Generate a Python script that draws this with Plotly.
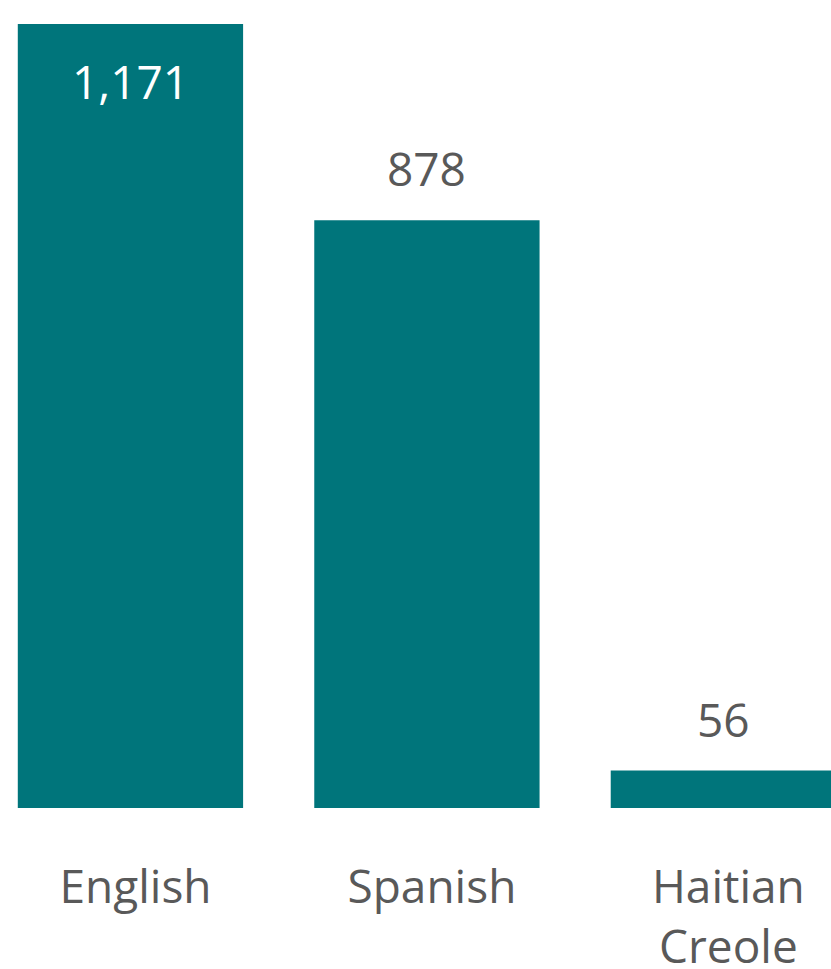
import plotly.graph_objects as go

categories = ["English", "Spanish", "Haitian<br>Creole"]
values = [1171, 878, 56]
value_labels = ["1,171", "878", "56"]
label_inside = [True, False, False]

BAR = "#00757B"
GRAY = "#595959"
FONT = "Open Sans"
FS = 46

fig = go.Figure(go.Bar(
    x=categories, y=values, marker=dict(color=BAR, line=dict(width=0)),
    width=0.76, hoverinfo="skip",
))

for c, v, t, ins in zip(categories, values, value_labels, label_inside):
    fig.add_annotation(
        x=c, y=v, xref="x", yref="y", text=t, showarrow=False,
        yanchor="middle", yshift=-57 if ins else 52,
        font=dict(family=FONT, size=FS, color="white" if ins else GRAY),
    )

fig.update_layout(
    width=831, height=969,
    margin=dict(l=0, r=0, t=0, b=161, pad=0, autoexpand=False),
    paper_bgcolor="white", plot_bgcolor="white",
    showlegend=False, hovermode=False,
    font=dict(family=FONT, size=FS, color=GRAY),
)
fig.update_xaxes(
    range=[-0.44, 2.363], showgrid=False, zeroline=False, showline=False,
    ticks="", tickfont=dict(family=FONT, size=FS, color=GRAY),
    ticklabelstandoff=48, ticklabelshift=5, automargin=False, fixedrange=True,
)
fig.update_yaxes(
    range=[0, 1207], visible=False, showgrid=False, zeroline=False,
    automargin=False, fixedrange=True,
)

fig.write_html(
    "out.html",
    config={"displayModeBar": False, "staticPlot": True},
    post_script="document.body.style.margin='0';document.body.style.overflow='hidden';",
)
